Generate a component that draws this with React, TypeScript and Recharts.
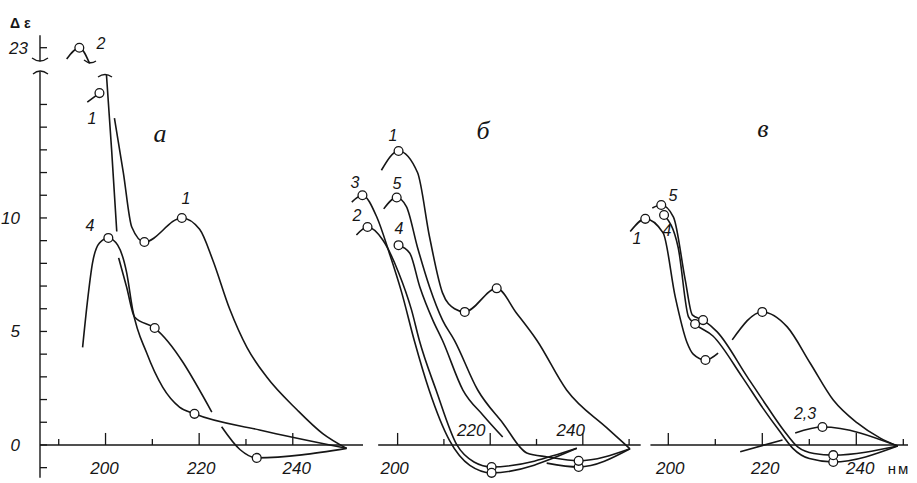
import React from "react"
import { LineChart, Line, XAxis, YAxis, ReferenceLine } from "recharts"

// [λ nm, Δε, marker?]  null Δε = gap in the drawn curve
type Pt = [number, number | null, number?]

// panel а
const a1: Pt[] = [[196.1, 15.1], [198.7, 15.5, 1], [200.3, null], [201.9, 14.4], [203.8, 12.0], [205.6, 9.6], [208.3, 8.94, 1], [216.3, 10.0, 1], [220.1, 9.5], [222.9, 8.15], [226.5, 6.0], [230.2, 4.3], [234.4, 3.0], [240.9, 1.55], [246.4, 0.5], [251.5, -0.15]]
const a2: Pt[] = [[191.7, 22.5], [194.4, 23, 1], [196.6, 22.3], [198.2, null], [200.2, 16.3], [201.3, 13.0], [202.4, 9.4]]
const a3: Pt[] = [[202.8, 8.24], [204.5, 6.96], [206.2, 5.64], [210.5, 5.15, 1], [222.7, 1.45], [223.8, null], [224.8, 0.8], [228.7, -0.2], [232.3, -0.57, 1], [251.5, -0.15]]
const a4: Pt[] = [[195.1, 4.3], [196.1, 6.26], [197.2, 8.0], [198.7, 8.9], [200.6, 9.12, 1], [202.6, 8.8], [204.5, 7.6], [205.8, 5.95], [208.8, 4.05], [212.2, 2.55], [215.8, 1.67], [219.0, 1.37, 1], [232.9, 0.66], [251.5, -0.15]]

// panel б
const b1: Pt[] = [[196.5, 12.1], [200.2, 12.95, 1], [204.3, 12.0], [206.9, 9.16], [209.7, 6.7], [212.3, 6.0], [214.5, 5.86, 1], [221.4, 6.9, 1], [225.7, 5.8], [230.1, 4.6], [236.5, 2.42], [245.2, 0.75], [250.2, -0.17]]
const b2: Pt[] = [[191.1, 9.25], [193.5, 9.6, 1], [196.8, 9.03], [200.2, 7.6], [203.0, 5.95], [204.7, 4.6], [208.3, 2.42], [212.8, 0.0], [216.5, -0.75], [220.3, -0.97, 1], [238.7, -0.15]]
const b3: Pt[] = [[190.1, 10.7], [192.4, 11.0, 1], [195.5, 10.04], [198.2, 8.46], [200.9, 6.7], [203.6, 4.6], [206.8, 2.42], [211.2, 0.2], [215.6, -0.9], [220.3, -1.23, 1], [238.7, -0.15]]
const b4: Pt[] = [[200.2, 8.8, 1], [202.6, 8.46], [204.8, 6.96], [207.6, 5.5], [209.7, 4.6], [214.1, 2.42], [218.5, 1.3], [222.7, 0.35], [227, null], [232.2, -0.8], [239.1, -0.97, 1], [250.2, -0.17]]
const b5: Pt[] = [[197, 10.4], [199.8, 10.9, 1], [201.9, 10.5], [204.3, 8.7], [206.9, 6.96], [209.7, 5.5], [212.3, 4.6], [217.3, 2.42], [222.7, 0.97], [227.9, -0.35], [232.4, -0.53], [239.1, -0.7, 1], [250.2, -0.17]]

// panel в
const c1: Pt[] = [[191.9, 9.4], [195.1, 9.96, 1], [198.9, 9.34], [201.5, 6.5], [204.0, 4.5], [205.3, 4.0], [207.9, 3.74, 1], [210.6, 4.05], [212.1, null], [213.6, 4.63], [220.0, 5.86, 1], [225.3, 5.2], [230.2, 3.6], [235.1, 1.98], [240.2, 0.97], [245.1, 0.3], [248.8, -0.05]]
const c4: Pt[] = [[199.1, 10.13, 1], [202.1, 8.7], [204.3, 5.64], [205.7, 5.33, 1], [209.5, 4.8], [215.7, 3.0], [220.2, 1.6], [223.7, 0.6], [226.5, -0.15], [230, -0.6], [235.1, -0.75, 1], [248.8, -0.05]]
const c5: Pt[] = [[196.6, 10.44], [198.5, 10.57, 1], [201.1, 10.04], [203.6, 7.27], [205.1, 5.73], [207.4, 5.5, 1], [210.4, 4.98], [216.8, 3.0], [221.1, 1.67], [224.5, 0.66], [227.6, -0.1], [231, -0.38], [235.1, -0.45, 1], [248.8, -0.05]]
const c23: Pt[] = [[215.3, -0.3], [224.3, 0.22], [225.6, null], [227.0, 0.53], [232.8, 0.79, 1], [248.8, -0.05]]

const xTicksA = [190, 200, 210, 220, 230, 240]
const xTicksB = [200, 210, 220, 230, 240, 250]
const xTicksC = [200, 210, 220, 230, 240, 250]
const yTicks = [-1, 0, 1, 2, 3, 4, 5, 6, 7, 8, 9, 10, 11, 12, 13, 14, 15, 17.5]
const yLabels: Record<string, string> = { "0": "0", "5": "5", "10": "10", "17.5": "23" }

// axis break: values above the break are drawn shifted down
const BREAK_SHIFT = 5.5
const brk = (v: number) => (v >= 20 ? v - BREAK_SHIFT : v)
const toData = (pts: Pt[]) => pts.map(([x, y, m]) => ({ x, y: y === null ? null : brk(y), m: !!m }))

const Y_MIN = -1.5
const Y_MAX = 18.5
const H = 483
const TOP = 25
const BOTTOM = 4
const Y0 = TOP + (Y_MAX / (Y_MAX - Y_MIN)) * (H - TOP - BOTTOM)

const INK = "#161616"
const numFont = "'Liberation Sans', Arial, sans-serif"
const serif = "'Liberation Serif', 'DejaVu Serif', serif"

const renderDot = (p: any) =>
  p.payload && p.payload.m && p.cy != null ? (
    <circle key={`d${p.index}`} cx={p.cx} cy={p.cy} r={4.4} fill="#fff" stroke={INK} strokeWidth={1.3} />
  ) : (
    <g key={`d${p.index}`} />
  )

type LabelPos = Record<number, { dx: number; above?: boolean }>

const makeXTick = (labels: LabelPos) => (p: any) => {
  const v = p.payload.value
  const major = v % 20 === 0
  const lab = labels[v]
  return (
    <g>
      <line x1={p.x} x2={p.x} y1={Y0} y2={Y0 - (major ? 12 : 6)} stroke={INK} strokeWidth={1.3} />
      {lab && (
        <text
          x={p.x + lab.dx}
          y={lab.above ? Y0 - 9 : Y0 + 29}
          textAnchor="middle"
          fontFamily={numFont}
          fontStyle="italic"
          fontSize={17}
          fill={INK}
        >
          {v}
        </text>
      )}
    </g>
  )
}

const YTick = (p: any) => {
  const v = p.payload.value
  const lab = yLabels[String(v)]
  const isBreak = v === 17.5
  return (
    <g>
      <line x1={p.x} x2={p.x + 7} y1={p.y} y2={p.y} stroke={INK} strokeWidth={1.3} />
      {lab && (
        <text
          x={p.x - (isBreak ? 12 : 20)}
          y={p.y + 6}
          textAnchor="end"
          fontFamily={numFont}
          fontStyle="italic"
          fontSize={17}
          fill={INK}
        >
          {lab}
        </text>
      )}
    </g>
  )
}

interface PanelProps {
  left: number
  width: number
  domain: [number, number]
  ticks: number[]
  labels: LabelPos
  series: Pt[][]
  axis: [number, number] | null
  showY?: boolean
}

function Panel({ left, width, domain, ticks, labels, series, axis, showY }: PanelProps) {
  return (
    <div style={{ position: "absolute", left, top: 0 }}>
      <LineChart width={width} height={H} margin={{ top: TOP, right: 0, bottom: BOTTOM - 1, left: 0 }}>
        <XAxis
          type="number"
          dataKey="x"
          domain={domain}
          ticks={ticks}
          interval={0}
          tick={makeXTick(labels)}
          axisLine={false}
          tickLine={false}
          height={1}
        />
        {showY ? (
          <YAxis
            type="number"
            domain={[Y_MIN, Y_MAX]}
            ticks={yTicks}
            interval={0}
            width={40}
            axisLine={false}
            tickLine={false}
            tickSize={0}
            tickMargin={0}
            tick={YTick}
          />
        ) : (
          <YAxis type="number" domain={[Y_MIN, Y_MAX]} hide />
        )}
        {axis && (
          <ReferenceLine
            segment={[{ x: axis[0], y: 0 }, { x: axis[1], y: 0 }]}
            stroke={INK}
            strokeWidth={1.4}
          />
        )}
        {showY && (
          <ReferenceLine
            segment={[{ x: domain[0], y: -1.45 }, { x: domain[0], y: 16.45 }]}
            stroke={INK}
            strokeWidth={1.4}
          />
        )}
        {showY && (
          <ReferenceLine
            segment={[{ x: domain[0], y: 16.9 }, { x: domain[0], y: 18.05 }]}
            stroke={INK}
            strokeWidth={1.4}
          />
        )}
        {series.map((s, i) => (
          <Line
            key={i}
            data={toData(s)}
            dataKey="y"
            type="monotone"
            stroke={INK}
            strokeWidth={1.6}
            dot={renderDot}
            activeDot={false}
            connectNulls={false}
            isAnimationActive={false}
          />
        ))}
      </LineChart>
    </div>
  )
}

const curveLabels: [string, number, number][] = [
  ["2", 101, 43], ["1", 92, 118], ["1", 186, 198], ["4", 90, 225],
  ["1", 393, 135], ["3", 355, 182], ["5", 397, 183], ["2", 357, 215], ["4", 399, 228],
  ["5", 673, 195], ["4", 667, 230], ["1", 637, 238], ["2,3", 805, 413],
]
const panelLetters: [string, number, number][] = [["а", 160, 133], ["б", 483, 130], ["в", 763, 128]]

export default function App() {
  return (
    <div style={{ position: "fixed", left: 0, top: 0, width: 917, height: 483, background: "#fff", overflow: "hidden" }}>
      <Panel left={0} width={363} domain={[186, 255]} ticks={xTicksA} showY
        labels={{ 200: { dx: -1 }, 220: { dx: 2 }, 240: { dx: 4 } }}
        series={[a1, a2, a3, a4]} axis={[186, 255]} />
      <Panel left={349} width={294} domain={[189.5, 253]} ticks={xTicksB}
        labels={{ 200: { dx: -3 }, 220: { dx: -19, above: true }, 240: { dx: -12, above: true } }}
        series={[b1, b2, b3, b4, b5]} axis={[195.8, 252.5]} />
      <Panel left={626} width={282} domain={[191, 251]} ticks={xTicksC}
        labels={{ 200: { dx: 2 }, 220: { dx: 3 }, 240: { dx: 4 } }}
        series={[c1, c4, c5, c23]} axis={[196.2, 251]} />
      <svg width={917} height={483} style={{ position: "absolute", left: 0, top: 0, pointerEvents: "none" }}>
        <text x={10} y={28} fontFamily={numFont} fontWeight="bold" fontSize={14} fill={INK}>Δ ε</text>
        {/* axis break marks */}
        <path d="M32,58 Q40,64 48,58" fill="none" stroke={INK} strokeWidth={1.3} />
        <path d="M33,74 Q40,68 48,74" fill="none" stroke={INK} strokeWidth={1.3} />
        {/* break marks on curve 2 */}
        <path d="M84,60 Q90,65 96,61" fill="none" stroke={INK} strokeWidth={1.3} />
        <path d="M98,77 Q105,72 112,77" fill="none" stroke={INK} strokeWidth={1.3} />
        {curveLabels.map(([t, x, y], i) => (
          <text key={i} x={x} y={y} textAnchor="middle" dominantBaseline="central" fontFamily={numFont} fontStyle="italic" fontSize={16} fill={INK}>{t}</text>
        ))}
        {panelLetters.map(([t, x, y], i) => (
          <text key={i} x={x} y={y} textAnchor="middle" dominantBaseline="central" fontFamily={serif} fontStyle="italic" fontSize={26} fill={INK}>{t}</text>
        ))}
        <text x={899} y={Y0 + 29} textAnchor="middle" fontFamily={numFont} fontSize={15} letterSpacing={2} fill={INK}>нм</text>
      </svg>
    </div>
  )
}
